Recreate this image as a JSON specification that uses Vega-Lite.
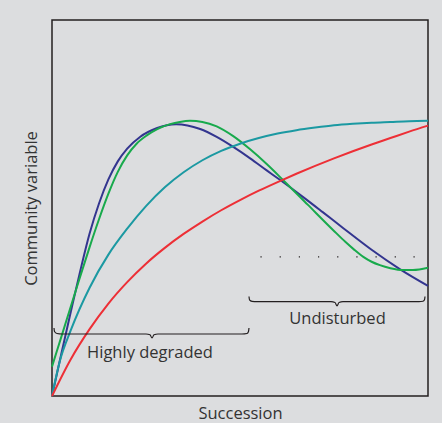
{
  "$schema": "https://vega.github.io/schema/vega-lite/v6.json",
  "width": 376,
  "height": 376,
  "autosize": "none",
  "padding": {"left": 52, "top": 20, "right": 14, "bottom": 27},
  "background": "#dcdddf",
  "config": {
    "view": {"stroke": "#231f20", "strokeWidth": 1.5, "fill": "#dcdddf"},
    "font": "Open Sans",
    "axis": {"titleFont": "Open Sans", "titleFontSize": 16.5, "titleFontWeight": "normal", "titleColor": "#333333", "labels": false, "ticks": false, "domain": false, "grid": false}
  },
  "datasets": {
    "curves": [
      {"series": "blue", "x": 0, "y": 0},
      {"series": "blue", "x": 2.5, "y": 11.3},
      {"series": "blue", "x": 5, "y": 22.4},
      {"series": "blue", "x": 7.5, "y": 33.2},
      {"series": "blue", "x": 10, "y": 43.2},
      {"series": "blue", "x": 12.5, "y": 51.2},
      {"series": "blue", "x": 15, "y": 57.6},
      {"series": "blue", "x": 17.5, "y": 62.4},
      {"series": "blue", "x": 20, "y": 65.8},
      {"series": "blue", "x": 23.4, "y": 68.9},
      {"series": "blue", "x": 27.8, "y": 71.2},
      {"series": "blue", "x": 33, "y": 72.3},
      {"series": "blue", "x": 39.4, "y": 71.0},
      {"series": "blue", "x": 43.8, "y": 68.9},
      {"series": "blue", "x": 48.1, "y": 66.3},
      {"series": "blue", "x": 52.7, "y": 63.2},
      {"series": "blue", "x": 57.1, "y": 60.0},
      {"series": "blue", "x": 60.6, "y": 57.5},
      {"series": "blue", "x": 66.8, "y": 52.9},
      {"series": "blue", "x": 72, "y": 48.9},
      {"series": "blue", "x": 77.4, "y": 44.7},
      {"series": "blue", "x": 85, "y": 38.9},
      {"series": "blue", "x": 92.6, "y": 33.7},
      {"series": "blue", "x": 100, "y": 29.3},
      {"series": "green", "x": 0, "y": 7.8},
      {"series": "green", "x": 2.5, "y": 15.8},
      {"series": "green", "x": 5, "y": 23.8},
      {"series": "green", "x": 7.5, "y": 31.8},
      {"series": "green", "x": 10, "y": 39.6},
      {"series": "green", "x": 12.5, "y": 47.0},
      {"series": "green", "x": 15, "y": 53.8},
      {"series": "green", "x": 17.5, "y": 59.6},
      {"series": "green", "x": 20, "y": 64.0},
      {"series": "green", "x": 22.5, "y": 67.1},
      {"series": "green", "x": 25.2, "y": 69.3},
      {"series": "green", "x": 28, "y": 71.0},
      {"series": "green", "x": 31.4, "y": 72.3},
      {"series": "green", "x": 34, "y": 72.9},
      {"series": "green", "x": 36.7, "y": 73.2},
      {"series": "green", "x": 40, "y": 72.9},
      {"series": "green", "x": 43.8, "y": 71.7},
      {"series": "green", "x": 48.2, "y": 69.1},
      {"series": "green", "x": 52.7, "y": 65.6},
      {"series": "green", "x": 57.1, "y": 61.7},
      {"series": "green", "x": 61.5, "y": 57.4},
      {"series": "green", "x": 68, "y": 50.9},
      {"series": "green", "x": 74.8, "y": 44.1},
      {"series": "green", "x": 78, "y": 41.0},
      {"series": "green", "x": 80.5, "y": 38.8},
      {"series": "green", "x": 82.8, "y": 37.0},
      {"series": "green", "x": 85, "y": 35.7},
      {"series": "green", "x": 87.2, "y": 34.8},
      {"series": "green", "x": 90, "y": 34.0},
      {"series": "green", "x": 93.4, "y": 33.5},
      {"series": "green", "x": 96, "y": 33.5},
      {"series": "green", "x": 100, "y": 34.1},
      {"series": "teal", "x": 0, "y": 0},
      {"series": "teal", "x": 2, "y": 9.0},
      {"series": "teal", "x": 5, "y": 17.5},
      {"series": "teal", "x": 10, "y": 28.8},
      {"series": "teal", "x": 15, "y": 37.6},
      {"series": "teal", "x": 20, "y": 44.5},
      {"series": "teal", "x": 25, "y": 50.5},
      {"series": "teal", "x": 30, "y": 55.5},
      {"series": "teal", "x": 35, "y": 59.5},
      {"series": "teal", "x": 40, "y": 62.7},
      {"series": "teal", "x": 45, "y": 65.2},
      {"series": "teal", "x": 50, "y": 67.1},
      {"series": "teal", "x": 55, "y": 68.6},
      {"series": "teal", "x": 60, "y": 69.8},
      {"series": "teal", "x": 65, "y": 70.7},
      {"series": "teal", "x": 70, "y": 71.4},
      {"series": "teal", "x": 75, "y": 72.0},
      {"series": "teal", "x": 80, "y": 72.4},
      {"series": "teal", "x": 85, "y": 72.7},
      {"series": "teal", "x": 90, "y": 72.9},
      {"series": "teal", "x": 95, "y": 73.1},
      {"series": "teal", "x": 100, "y": 73.2},
      {"series": "red", "x": 0, "y": 0},
      {"series": "red", "x": 5, "y": 9.8},
      {"series": "red", "x": 10, "y": 17.8},
      {"series": "red", "x": 15, "y": 24.6},
      {"series": "red", "x": 20, "y": 30.3},
      {"series": "red", "x": 25, "y": 35.2},
      {"series": "red", "x": 30, "y": 39.4},
      {"series": "red", "x": 35, "y": 43.1},
      {"series": "red", "x": 40, "y": 46.4},
      {"series": "red", "x": 45, "y": 49.4},
      {"series": "red", "x": 50, "y": 52.1},
      {"series": "red", "x": 55, "y": 54.6},
      {"series": "red", "x": 60, "y": 56.9},
      {"series": "red", "x": 65, "y": 59.1},
      {"series": "red", "x": 70, "y": 61.2},
      {"series": "red", "x": 75, "y": 63.2},
      {"series": "red", "x": 80, "y": 65.1},
      {"series": "red", "x": 85, "y": 66.9},
      {"series": "red", "x": 90, "y": 68.6},
      {"series": "red", "x": 95, "y": 70.3},
      {"series": "red", "x": 100, "y": 71.9}
    ],
    "braces": [
      {"brace": "degraded", "x": 0.53, "y": 18.09},
      {"brace": "degraded", "x": 0.66, "y": 17.15},
      {"brace": "degraded", "x": 1.33, "y": 16.62},
      {"brace": "degraded", "x": 2.66, "y": 16.49},
      {"brace": "degraded", "x": 25.0, "y": 16.49},
      {"brace": "degraded", "x": 26.06, "y": 16.28},
      {"brace": "degraded", "x": 26.6, "y": 15.43},
      {"brace": "degraded", "x": 27.13, "y": 16.28},
      {"brace": "degraded", "x": 28.19, "y": 16.49},
      {"brace": "degraded", "x": 50.53, "y": 16.49},
      {"brace": "degraded", "x": 51.86, "y": 16.62},
      {"brace": "degraded", "x": 52.26, "y": 17.15},
      {"brace": "degraded", "x": 52.39, "y": 18.09},
      {"brace": "undisturbed", "x": 52.39, "y": 26.46},
      {"brace": "undisturbed", "x": 52.53, "y": 25.59},
      {"brace": "undisturbed", "x": 53.19, "y": 25.19},
      {"brace": "undisturbed", "x": 54.52, "y": 25.08},
      {"brace": "undisturbed", "x": 74.2, "y": 25.08},
      {"brace": "undisturbed", "x": 75.27, "y": 24.87},
      {"brace": "undisturbed", "x": 75.8, "y": 23.94},
      {"brace": "undisturbed", "x": 76.33, "y": 24.87},
      {"brace": "undisturbed", "x": 77.39, "y": 25.08},
      {"brace": "undisturbed", "x": 97.61, "y": 25.08},
      {"brace": "undisturbed", "x": 98.67, "y": 25.19},
      {"brace": "undisturbed", "x": 99.07, "y": 25.59},
      {"brace": "undisturbed", "x": 99.2, "y": 26.46}
    ],
    "dots": [
      {"x": 55.6, "y": 37.0},
      {"x": 60.7, "y": 37.0},
      {"x": 65.8, "y": 37.0},
      {"x": 70.9, "y": 37.0},
      {"x": 76.0, "y": 37.0},
      {"x": 81.1, "y": 37.0},
      {"x": 86.2, "y": 37.0},
      {"x": 91.3, "y": 37.0},
      {"x": 96.3, "y": 37.0}
    ],
    "labels": [
      {"label": "Highly degraded", "x": 26.06, "y": 10.19},
      {"label": "Undisturbed", "x": 75.93, "y": 19.15}
    ]
  },
  "layer": [
    {
      "data": {"name": "curves"},
      "mark": {"type": "line", "strokeWidth": 2, "interpolate": "monotone"},
      "encoding": {
        "x": {"field": "x", "type": "quantitative", "scale": {"domain": [0, 100], "nice": false, "zero": false}, "axis": {"title": "Succession", "titlePadding": 9}},
        "y": {"field": "y", "type": "quantitative", "scale": {"domain": [0, 100], "nice": false, "zero": false}, "axis": {"title": "Community variable", "titlePadding": 13}},
        "color": {"field": "series", "type": "nominal", "scale": {"domain": ["red", "teal", "green", "blue"], "range": ["#ed2f36", "#1b99a2", "#18aa4c", "#33358f"]}, "legend": null},
        "order": {"field": "x", "type": "quantitative"}
      }
    },
    {
      "data": {"name": "braces"},
      "mark": {"type": "line", "strokeWidth": 1.2, "color": "#231f20", "interpolate": "monotone"},
      "encoding": {
        "x": {"field": "x", "type": "quantitative"},
        "y": {"field": "y", "type": "quantitative"},
        "detail": {"field": "brace", "type": "nominal"},
        "order": {"field": "x", "type": "quantitative"}
      }
    },
    {
      "data": {"name": "dots"},
      "mark": {"type": "point", "shape": "square", "size": 1.5, "filled": true, "color": "#231f20", "opacity": 1},
      "encoding": {
        "x": {"field": "x", "type": "quantitative"},
        "y": {"field": "y", "type": "quantitative"}
      }
    },
    {
      "data": {"name": "labels"},
      "mark": {"type": "text", "font": "Open Sans", "fontSize": 16.5, "color": "#333333", "align": "center", "baseline": "alphabetic"},
      "encoding": {
        "x": {"field": "x", "type": "quantitative"},
        "y": {"field": "y", "type": "quantitative"},
        "text": {"field": "label", "type": "nominal"}
      }
    }
  ]
}
